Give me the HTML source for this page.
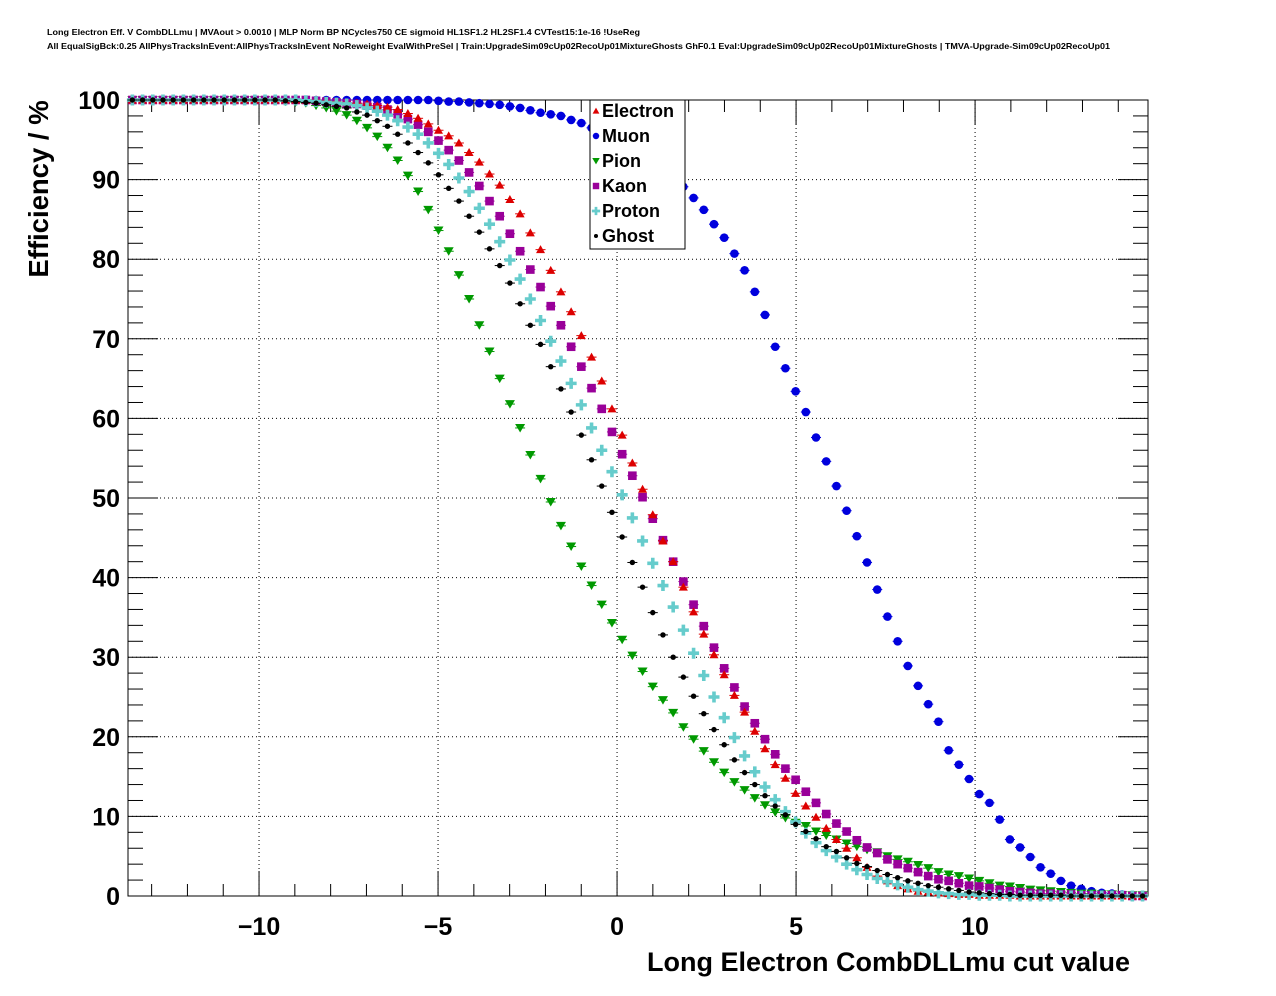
<!DOCTYPE html>
<html><head><meta charset="utf-8"><style>
body{margin:0;background:#fff;}
svg{display:block;font-family:"Liberation Sans",Arial,sans-serif;}
</style></head><body>
<svg id="chart" width="1276" height="996" xmlns="http://www.w3.org/2000/svg">
<rect width="1276" height="996" fill="#fff"/>
<text x="47" y="35" font-size="8.5" font-weight="bold" textLength="593" lengthAdjust="spacingAndGlyphs">Long Electron Eff. V CombDLLmu | MVAout &gt; 0.0010 | MLP Norm BP NCycles750 CE sigmoid HL1SF1.2 HL2SF1.4 CVTest15:1e-16 !UseReg</text>
<text x="47" y="49" font-size="8.5" font-weight="bold" textLength="1063" lengthAdjust="spacingAndGlyphs">All EqualSigBck:0.25 AllPhysTracksInEvent:AllPhysTracksInEvent NoReweight EvalWithPreSel | Train:UpgradeSim09cUp02RecoUp01MixtureGhosts GhF0.1 Eval:UpgradeSim09cUp02RecoUp01MixtureGhosts | TMVA-Upgrade-Sim09cUp02RecoUp01</text>
<g id="grid"></g>
<g id="axes"></g>
<g id="marks"></g>
<text transform="translate(48,189) rotate(-90)" text-anchor="middle" font-size="27.5" font-weight="bold">Efficiency / %</text>
<text x="1130" y="971" text-anchor="end" font-size="27" font-weight="bold">Long Electron CombDLLmu cut value</text>
<g id="legend"></g>
</svg>
<script>
const xLow = -13.68, binW = 0.285;
const xTicks = [-10, -5, 0, 5, 10];
const xTickLabels = ["\u221210", "\u22125", "0", "5", "10"];
const yTicks = [0,10,20,30,40,50,60,70,80,90,100];
const seriesNames = ["Electron","Muon","Pion","Kaon","Proton","Ghost"];
const z10 = [0,0,0,0,0,0,0,0,0,0];
const h10 = [100,100,100,100,100,100,100,100,100,100];
const electron = [].concat(h10,
 [100,100,100,100,100,100,100,100,100,99.9],
 [99.8,99.7,99.6,99.5,99.3,99.1,98.8,98.3,97.7,97.0],
 [96.2,95.5,94.6,93.4,92.2,90.7,89.3,87.5,85.7,83.3],
 [81.2,78.6,75.9,73.4,70.4,67.7,64.7,61.2,57.9,54.4],
 [51.1,47.9,44.6,42.0,38.8,35.7,32.9,30.3,27.8,25.2],
 [23.1,20.7,18.5,16.5,14.8,12.9,11.3,9.9,8.5,7.1],
 [6.0,4.8,3.6,2.5,1.9,1.3,0.9,0.6,0.5,0.4],
 [0.3,0.2,0.2,0.1,0.1,0.1,0.1,0,0,0], z10);
const muon = [].concat(h10,h10,h10,
 [99.9,99.8,99.8,99.7,99.6,99.5,99.4,99.2,99.0,98.7],
 [98.4,98.2,98.0,97.5,97.1,96.5,95.8,95.0,94.2,93.3],
 [92.4,91.5,90.6,89.9,89.1,87.7,86.2,84.4,82.7,80.7],
 [78.6,75.9,73.0,69.0,66.3,63.4,60.8,57.6,54.6,51.5],
 [48.4,45.2,41.9,38.5,35.1,32.0,28.9,26.4,24.1,21.9],
 [18.3,16.5,14.7,12.8,11.7,9.6,7.1,6.1,4.9,3.6],
 [2.8,1.9,1.3,0.9,0.6,0.4,0.3,0.2,0.1,0.1]);
const pion = [].concat(h10,
 [100,100,100,100,99.9,99.8,99.7,99.6,99.3,99.0],
 [98.6,98.1,97.4,96.5,95.4,94.0,92.4,90.5,88.5,86.2],
 [83.6,81.0,78.0,75.0,71.7,68.4,65.0,61.8,58.8,55.4],
 [52.4,49.5,46.5,43.9,41.4,39.0,36.6,34.3,32.2,30.2],
 [28.2,26.3,24.6,23.0,21.2,19.7,18.2,16.8,15.5,14.3],
 [13.3,12.3,11.4,10.5,9.8,9.2,8.8,8.1,7.6,7.1],
 [6.6,6.2,5.8,5.5,5.0,4.6,4.3,3.9,3.5,3.0],
 [2.7,2.5,2.2,1.9,1.6,1.3,1.2,1.0,0.8,0.7],
 [0.6,0.5,0.4,0.3,0.3,0.2,0.2,0.1,0.1,0.1]);
const kaon = [].concat(h10,
 [100,100,100,100,100,100,100,100,99.9,99.8],
 [99.7,99.6,99.5,99.3,99.1,98.8,98.2,97.6,96.9,96.0],
 [94.9,93.7,92.4,90.9,89.2,87.3,85.4,83.2,81.0,78.7],
 [76.5,74.1,71.7,69.0,66.5,63.8,61.2,58.3,55.5,52.8],
 [50.1,47.4,44.7,42.0,39.5,36.6,33.9,31.2,28.6,26.2],
 [23.8,21.7,19.7,17.8,16.0,14.6,13.1,11.7,10.3,9.1],
 [8.1,7.0,6.1,5.4,4.6,4.0,3.5,3.0,2.5,2.1],
 [1.9,1.6,1.3,1.2,1.0,0.8,0.6,0.5,0.4,0.3],
 [0.3,0.2,0.2,0.1,0.1,0.1,0.1,0.1,0,0]);
const proton = [].concat(h10,
 [100,100,100,100,100,100,100,99.9,99.8,99.7],
 [99.6,99.5,99.3,99.0,98.6,98.1,97.4,96.6,95.7,94.6],
 [93.3,91.9,90.2,88.5,86.4,84.4,82.2,79.9,77.5,75.0],
 [72.3,69.7,67.2,64.4,61.7,58.8,56.0,53.3,50.4,47.5],
 [44.6,41.8,39.0,36.3,33.4,30.5,27.7,25.0,22.4,19.9],
 [17.6,15.6,13.7,12.1,10.6,9.3,7.9,6.7,5.7,4.9],
 [4.0,3.3,2.7,2.2,1.8,1.4,1.1,0.8,0.6,0.4],
 [0.3,0.2,0.2,0.1,0.1,0.1,0,0,0,0], z10);
const ghost = [].concat(h10,
 [100,100,100,100,100,99.9,99.8,99.7,99.6,99.4],
 [99.2,99.0,98.5,98.1,97.4,96.7,95.7,94.6,93.4,92.1],
 [90.6,88.9,87.3,85.4,83.4,81.3,79.2,77.0,74.4,71.7],
 [69.3,66.5,63.7,60.8,57.9,54.8,51.5,48.2,45.1,41.9],
 [38.8,35.6,32.8,30.0,27.5,25.1,22.9,20.9,19.0,17.1],
 [15.5,14.0,12.6,11.3,10.2,9.0,8.1,7.2,6.2,5.6],
 [4.8,4.1,3.7,3.2,2.7,2.3,1.9,1.6,1.3,1.1],
 [0.9,0.7,0.5,0.4,0.3,0.2,0.2,0.1,0.1,0.1],
 [0.1,0.1,0,0,0,0,0,0,0,0]);

const NS="http://www.w3.org/2000/svg";
const L=128,R=1148,T=100,B=896;
const X0=-13.66, X1=14.83;
function xs(v){return L+(v-X0)/(X1-X0)*(R-L);}
function ys(v){return B-v/100*(B-T);}
function mk(tag,attrs,parent){const e=document.createElementNS(NS,tag);for(const k in attrs)e.setAttribute(k,attrs[k]);parent.appendChild(e);return e;}
const grid=document.getElementById('grid'),axes=document.getElementById('axes'),marks=document.getElementById('marks'),legend=document.getElementById('legend');

xTicks.forEach(t=>{const l=mk('line',{x1:xs(t),x2:xs(t),y1:T,y2:B,stroke:'#000','stroke-width':1,'stroke-dasharray':'1,3'},grid);

});
yTicks.slice(1,-1).forEach(t=>{const l=mk('line',{x1:L,x2:R,y1:ys(t),y2:ys(t),stroke:'#000','stroke-width':1,'stroke-dasharray':'1,3'},grid);

});

const fr=mk('rect',{x:L,y:T,width:R-L,height:B-T,fill:'none',stroke:'#000','stroke-width':1},axes);


for(let v=-13;v<=14;v++){const major=(v%5===0);const len=major?25:12;
 const a=mk('line',{x1:xs(v),x2:xs(v),y1:B,y2:B-len,stroke:'#000','stroke-width':1},axes);
 
 
 const b=mk('line',{x1:xs(v),x2:xs(v),y1:T,y2:T+len,stroke:'#000','stroke-width':1},axes);
 
 }
xTicks.forEach((t,i)=>{const tx=mk('text',{x:xs(t),y:935,'text-anchor':'middle','font-size':25,'font-weight':'bold'},axes);tx.textContent=xTickLabels[i];
 
 });
for(let v=0;v<=100;v+=2){const major=(v%10===0);const len=major?30:15;
 const a=mk('line',{x1:L,x2:L+len,y1:ys(v),y2:ys(v),stroke:'#000','stroke-width':1},axes);
 
 
 const b=mk('line',{x1:R,x2:R-len,y1:ys(v),y2:ys(v),stroke:'#000','stroke-width':1},axes);
 
 }
yTicks.forEach(t=>{const tx=mk('text',{x:120,y:ys(t)+9,'text-anchor':'end','font-size':25,'font-weight':'bold'},axes);tx.textContent=String(t);
 
 });

const colors=['#dd0000','#0000dd','#009900','#990099','#66cccc','#000000'];
function marker(type,cx,cy,col,parent,s){
 s=s||1;
 if(type===0) return mk('polygon',{points:`${cx},${cy-4.5*s} ${cx-4.5*s},${cy+3.5*s} ${cx+4.5*s},${cy+3.5*s}`,fill:col},parent);
 if(type===1) return mk('circle',{cx:cx,cy:cy,r:4.3*s,fill:col},parent);
 if(type===2) return mk('polygon',{points:`${cx-5*s},${cy-4*s} ${cx+5*s},${cy-4*s} ${cx},${cy+4.5*s}`,fill:col},parent);
 if(type===3) return mk('rect',{x:cx-4.3*s,y:cy-4.3*s,width:8.6*s,height:8.6*s,fill:col},parent);
 if(type===4) return mk('path',{d:`M${cx-5.5*s},${cy-1.8*s}h${3.7*s}v${-3.7*s}h${3.6*s}v${3.7*s}h${3.7*s}v${3.6*s}h${-3.7*s}v${3.7*s}h${-3.6*s}v${-3.7*s}h${-3.7*s}z`,fill:col},parent);
 return mk('circle',{cx:cx,cy:cy,r:2.7*s,fill:col},parent);
}
const allSeries=[electron,muon,pion,kaon,proton,ghost];
const drawOrder=[1,2,3,0,4,5];
drawOrder.forEach(si=>{
 const g=mk('g',{},marks);
 
 
 allSeries[si].forEach((v,k)=>{
  const xv=xLow+(k+0.5)*binW;
  const cx=xs(xv), cy=ys(v);
  const eb=mk('line',{x1:cx-5,x2:cx+5,y1:cy,y2:cy,stroke:colors[si],'stroke-width':1},g);
  
  
  const m=marker(si,cx,cy,colors[si],g);
  
  
 });
});

const lb=mk('rect',{x:590,y:100,width:95,height:149,fill:'#fff',stroke:'#000','stroke-width':1},legend);


seriesNames.forEach((n,i)=>{
 const y=111+25*i;
 const g=mk('g',{},legend);
 
 
 marker(i,596,y,colors[i],g,0.75);
 const t=mk('text',{x:602,y:y+6,'font-size':18,'font-weight':'bold'},g);t.textContent=n;
});
</script>
</body></html>
